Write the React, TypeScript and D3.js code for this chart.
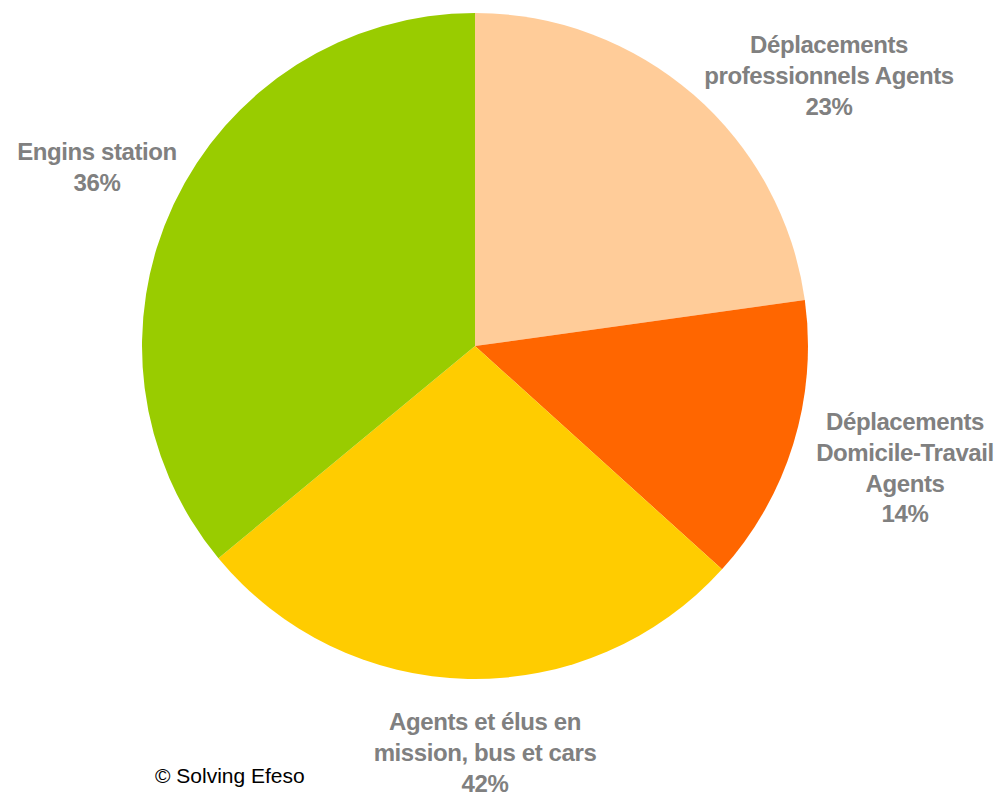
import React from "react";
import * as d3 from "d3";

const categories = [
  "Déplacements professionnels Agents",
  "Déplacements Domicile-Travail Agents",
  "Agents et élus en mission, bus et cars",
  "Engins station",
];
const values = [22.8, 13.9, 27.3, 36.0];
const percentLabels = ["23%", "14%", "42%", "36%"];
const labelLines = [
  ["Déplacements", "professionnels Agents"],
  ["Déplacements", "Domicile-Travail", "Agents"],
  ["Agents et élus en", "mission, bus et cars"],
  ["Engins station"],
];
const colors = ["#FFCC99", "#FF6600", "#FFCC00", "#99CC00"];

// label block anchors: [x centre, first baseline], relative to pie centre (layout)
const labelOffsets: [number, number][] = [
  [354, -293],
  [430, 84],
  [10, 384],
  [-378, -186],
];

export default function App() {
  const W = 1001, H = 798;
  const cx = 475, cy = 346, R = 333;
  const pie = d3.pie<number>().sort(null).value((d) => d).startAngle(0).endAngle(2 * Math.PI);
  const arcs = pie(values);
  const arc = d3.arc<d3.PieArcDatum<number>>().innerRadius(0).outerRadius(R);
  const lh = 30.8;
  return (
    <svg width={W} height={H} style={{ position: "absolute", left: 0, top: 0 }}>
      <rect width={W} height={H} fill="#fff" />
      <g transform={`translate(${cx},${cy})`}>
        {arcs.map((a, i) => (
          <path key={categories[i]} d={arc(a) || ""} fill={colors[i]} />
        ))}
        {labelLines.map((lines, i) => {
          const [dx, dy] = labelOffsets[i];
          const all = [...lines, percentLabels[i]];
          return (
            <text
              key={i}
              textAnchor="middle"
              fontFamily="'Liberation Sans', Arial, sans-serif"
              fontWeight="bold"
              fontSize={24}
              letterSpacing={-0.4}
              fill="#808080"
            >
              {all.map((l, j) => (
                <tspan key={j} x={dx} y={dy + j * lh}>
                  {l}
                </tspan>
              ))}
            </text>
          );
        })}
      </g>
      <text
        x={155}
        y={783}
        fontFamily="'Liberation Sans', Arial, sans-serif"
        fontSize={21}
        fill="#000"
      >
        © Solving Efeso
      </text>
    </svg>
  );
}
